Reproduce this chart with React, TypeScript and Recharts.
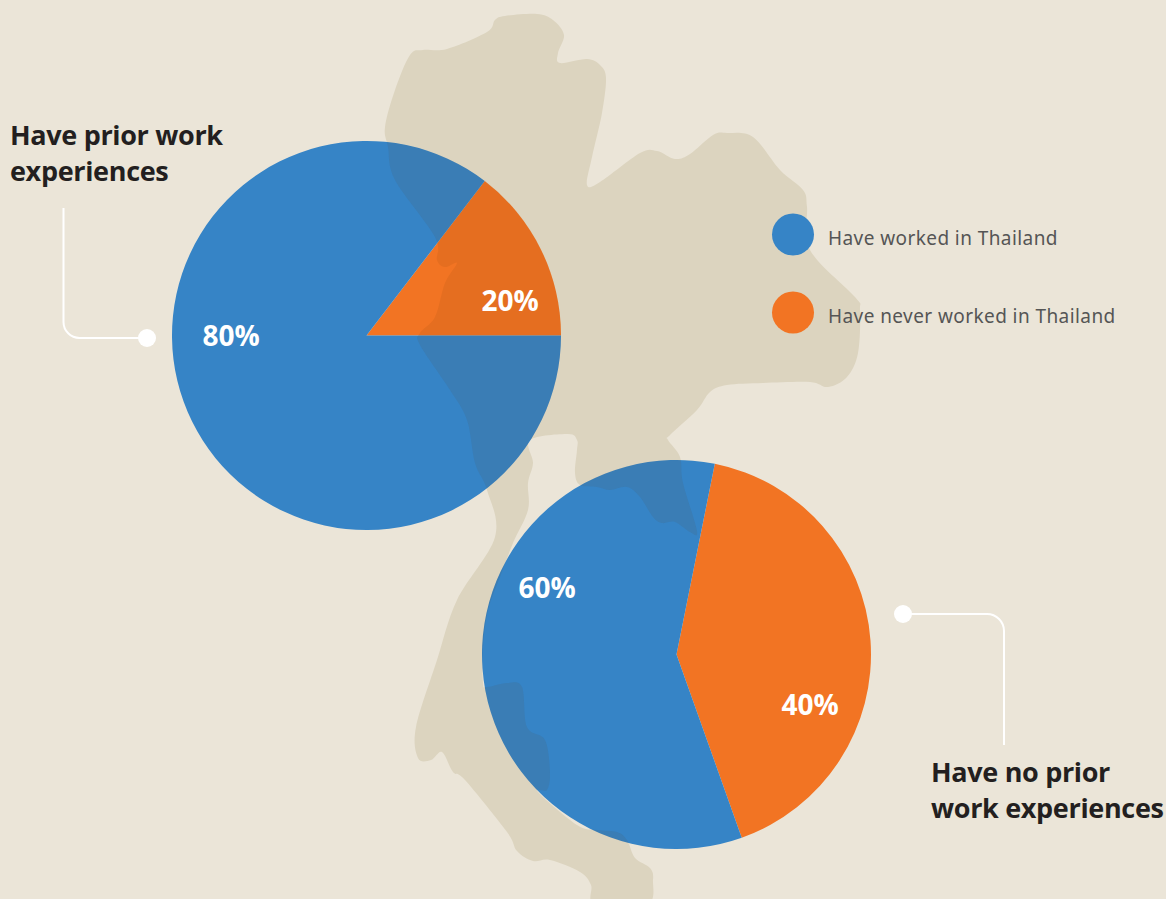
import React from "react";
import { PieChart, Pie, Cell } from "recharts";

const W = 1166;
const H = 899;
const BG = "#EBE5D8";
const LAND = "#DCD4BF";
const BLUE = "#3684C6";
const ORANGE = "#F27423";

const seriesNames = ["Have never worked in Thailand", "Have worked in Thailand"];
const seriesColors = [ORANGE, BLUE];
const priorShares = [14.6, 85.4];
const noPriorShares = [41.4, 58.6];
const priorLabels = ["20%", "80%"];
const noPriorLabels = ["40%", "60%"];

const toRows = (vals: number[]) => vals.map((value, i) => ({ name: seriesNames[i], value }));

const land: [number, number][] = [
  [495, 20], [505, 16], [537, 14], [553, 20], [564, 35], [558, 53], [560, 63], [587, 59], [600, 65], [606, 78],
  [602, 113], [592, 157], [587, 185], [600, 182], [640, 153], [657, 151], [675, 159], [690, 154], [713, 135],
  [727, 133], [753, 137], [780, 170], [803, 190], [807, 207], [810, 250], [855, 297], [860, 310], [858, 353],
  [847, 377], [828, 387], [810, 382], [763, 383], [727, 385], [710, 392], [697, 410], [670, 435], [668, 440],
  [680, 457], [683, 483], [697, 531], [690, 532], [675, 522], [662, 523], [653, 517], [640, 497], [627, 487],
  [610, 490], [597, 487], [580, 485], [575, 473], [577, 450], [577, 440], [568, 434], [530, 440], [533, 463],
  [528, 483], [528, 510], [513, 543], [500, 577], [488, 610], [483, 647], [483, 683], [487, 687], [507, 683],
  [522, 687], [527, 727], [545, 740], [550, 773], [547, 790], [538, 792], [577, 825], [597, 830], [617, 832],
  [627, 840], [635, 858], [650, 868], [653, 880], [647, 905], [595, 905], [591, 885], [580, 872], [550, 860],
  [533, 861], [517, 851], [507, 832], [465, 780], [453, 772], [442, 752], [431, 760], [418, 758], [416, 727],
  [437, 660], [457, 600], [495, 537], [487, 490], [475, 463], [467, 420], [450, 390], [420, 345], [420, 333],
  [435, 317], [445, 283], [457, 263], [445, 267], [437, 260], [435, 237], [395, 180], [388, 147], [385, 127],
  [395, 90], [410, 55], [423, 50], [447, 49], [487, 32],
];

function smooth(p: [number, number][]) {
  const n = p.length;
  let d = `M${p[0][0]},${p[0][1]}`;
  for (let i = 0; i < n; i++) {
    const a = p[(i - 1 + n) % n], b = p[i], c = p[(i + 1) % n], e = p[(i + 2) % n];
    const k = 1 / 6;
    d += `C${b[0] + (c[0] - a[0]) * k},${b[1] + (c[1] - a[1]) * k} ${c[0] - (e[0] - b[0]) * k},${c[1] - (e[1] - b[1]) * k} ${c[0]},${c[1]}`;
  }
  return d + "Z";
}
const landPath = smooth(land);

const C1 = { x: 366.5, y: 335.5 };
const C2 = { x: 676.5, y: 654.5 };
const R = 194.5;
const layer: React.CSSProperties = { position: "absolute", left: 0, top: 0 };
const headFont = "'Open Sans', sans-serif";

const Head = ({ x, y, children }: any) => (
  <text x={x} y={y} fontFamily={headFont} fontWeight={700} fontSize={27} fill="#231F20" style={{ letterSpacing: "-0.33px" }}>{children}</text>
);
const Pct = ({ x, y, children }: any) => (
  <text x={x} y={y} textAnchor="middle" fontFamily={headFont} fontWeight={700} fontSize={28} fill="#fff">{children}</text>
);

export default function App() {
  return (
    <div style={{ position: "absolute", left: 0, top: 0, width: W, height: H, background: BG, overflow: "hidden" }}>
      <svg width={W} height={H} style={layer}>
        <path d={landPath} fill={LAND} />
      </svg>
      <div style={layer}>
        <PieChart width={W} height={H} margin={{ top: 0, right: 0, bottom: 0, left: 0 }}>
          <Pie data={toRows(priorShares)} dataKey="value" nameKey="name" cx={C1.x} cy={C1.y} outerRadius={R} innerRadius={0}
            startAngle={0} endAngle={360} stroke="none" isAnimationActive={false}>
            {priorShares.map((_, i) => <Cell key={i} fill={seriesColors[i]} />)}
          </Pie>
          <Pie data={toRows(noPriorShares)} dataKey="value" nameKey="name" cx={C2.x} cy={C2.y} outerRadius={R} innerRadius={0}
            startAngle={-70.4} endAngle={289.6} stroke="none" isAnimationActive={false}>
            {noPriorShares.map((_, i) => <Cell key={i} fill={seriesColors[i]} />)}
          </Pie>
        </PieChart>
      </div>
      <svg width={W} height={H} style={layer}>
        <defs>
          <clipPath id="pies">
            <circle cx={C1.x} cy={C1.y} r={R} />
            <circle cx={C2.x} cy={C2.y} r={R} />
          </clipPath>
        </defs>
        <path d={landPath} fill="rgb(104,60,10)" fillOpacity={0.09} clipPath="url(#pies)" />

        <Pct x={231} y={345.5}>{priorLabels[1]}</Pct>
        <Pct x={510} y={310.5}>{priorLabels[0]}</Pct>
        <Pct x={547} y={597.5}>{noPriorLabels[1]}</Pct>
        <Pct x={810} y={714.5}>{noPriorLabels[0]}</Pct>

        <path d="M63.5,208V322a16,16 0 0 0 16,16H147" fill="none" stroke="#fff" strokeWidth={2} />
        <circle cx={147} cy={338} r={9} fill="#fff" />
        <path d="M903,614H987a17,17 0 0 1 17,17V745" fill="none" stroke="#fff" strokeWidth={2} />
        <circle cx={903} cy={614} r={9} fill="#fff" />

        <Head x={10} y={145}>Have prior work</Head>
        <Head x={10} y={181}>experiences</Head>
        <Head x={931} y={782}>Have no prior</Head>
        <Head x={931} y={818}>work experiences</Head>

        <circle cx={793} cy={234.5} r={21} fill={seriesColors[1]} />
        <circle cx={793} cy={312.5} r={21} fill={seriesColors[0]} />
        <text x={828} y={245} fontFamily="'Noto Sans', sans-serif" fontSize={19} fill="#555" style={{ letterSpacing: "0.42px" }}>{seriesNames[1]}</text>
        <text x={828} y={323} fontFamily="'Noto Sans', sans-serif" fontSize={19} fill="#555" style={{ letterSpacing: "0.42px" }}>{seriesNames[0]}</text>
      </svg>
    </div>
  );
}
